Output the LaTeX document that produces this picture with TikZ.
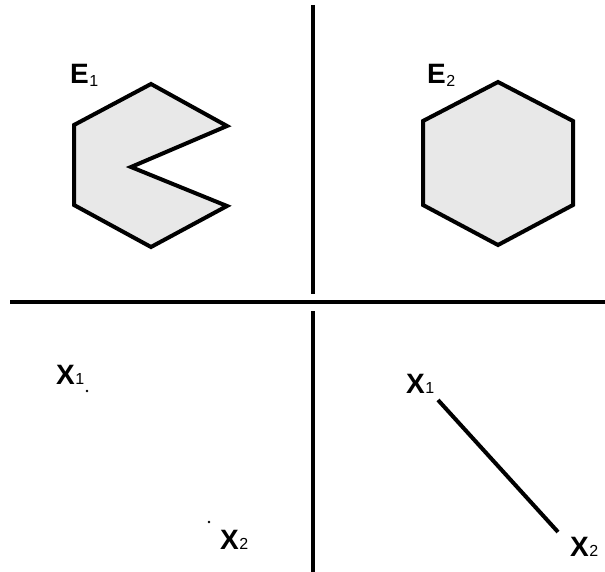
\documentclass[tikz,border=0pt]{standalone}
\usepackage{fontspec}
\setmainfont{Liberation Sans}
\newcommand{\lab}[3]{{\fontsize{28}{28}\selectfont\bfseries #1}\kern0.5pt\raisebox{#3}{\fontsize{16}{16}\selectfont #2}}
\begin{document}
\begin{tikzpicture}[x=1pt,y=-1pt,
  shape line/.style={line width=4pt, line join=miter},
  divider/.style={line width=4pt},
  region/.style={shape line, fill=black!9},
  lbl/.style={inner sep=0pt, anchor=base west},
  seg/.style={line width=4pt}]
\useasboundingbox (0,0) rectangle (605,572);
% dividers
\coordinate (vt1) at (313,5);
\coordinate (vt2) at (313,294);
\coordinate (vb1) at (313,311);
\coordinate (vb2) at (313,572);
\coordinate (hl) at (10,302);
\coordinate (hr) at (605,302);
\draw[divider] (vt1) -- (vt2);
\draw[divider] (vb1) -- (vb2);
\draw[divider] (hl) -- (hr);
% E1 non-convex shape
\draw[region] (151,84) -- (227,126) -- (131,167) -- (227,206) -- (151,247) -- (74,205) -- (74,125) -- cycle;
\node[lbl] (e1) at (70,84) {\lab{E}{1}{-3pt}};
% E2 hexagon
\draw[region] (498,82) -- (573,121) -- (573,205) -- (498,245) -- (423,205) -- (423,121) -- cycle;
\node[lbl] (e2) at (427,84) {\lab{E}{2}{-3pt}};
% bottom left: two points
\fill (87,391) circle (1.4pt);
\fill (209,522) circle (1.4pt);
\node[lbl] (x1a) at (56,384) {\lab{X}{1}{0pt}};
\node[lbl] (x2a) at (220,549) {\lab{X}{2}{0pt}};
% bottom right: segment
\coordinate (p1) at (438,400);
\coordinate (p2) at (558,532);
\draw[seg] (p1) -- (p2);
\node[lbl] (x1b) at (406,393) {\lab{X}{1}{0pt}};
\node[lbl] (x2b) at (570,556) {\lab{X}{2}{0pt}};
\end{tikzpicture}
\end{document}
